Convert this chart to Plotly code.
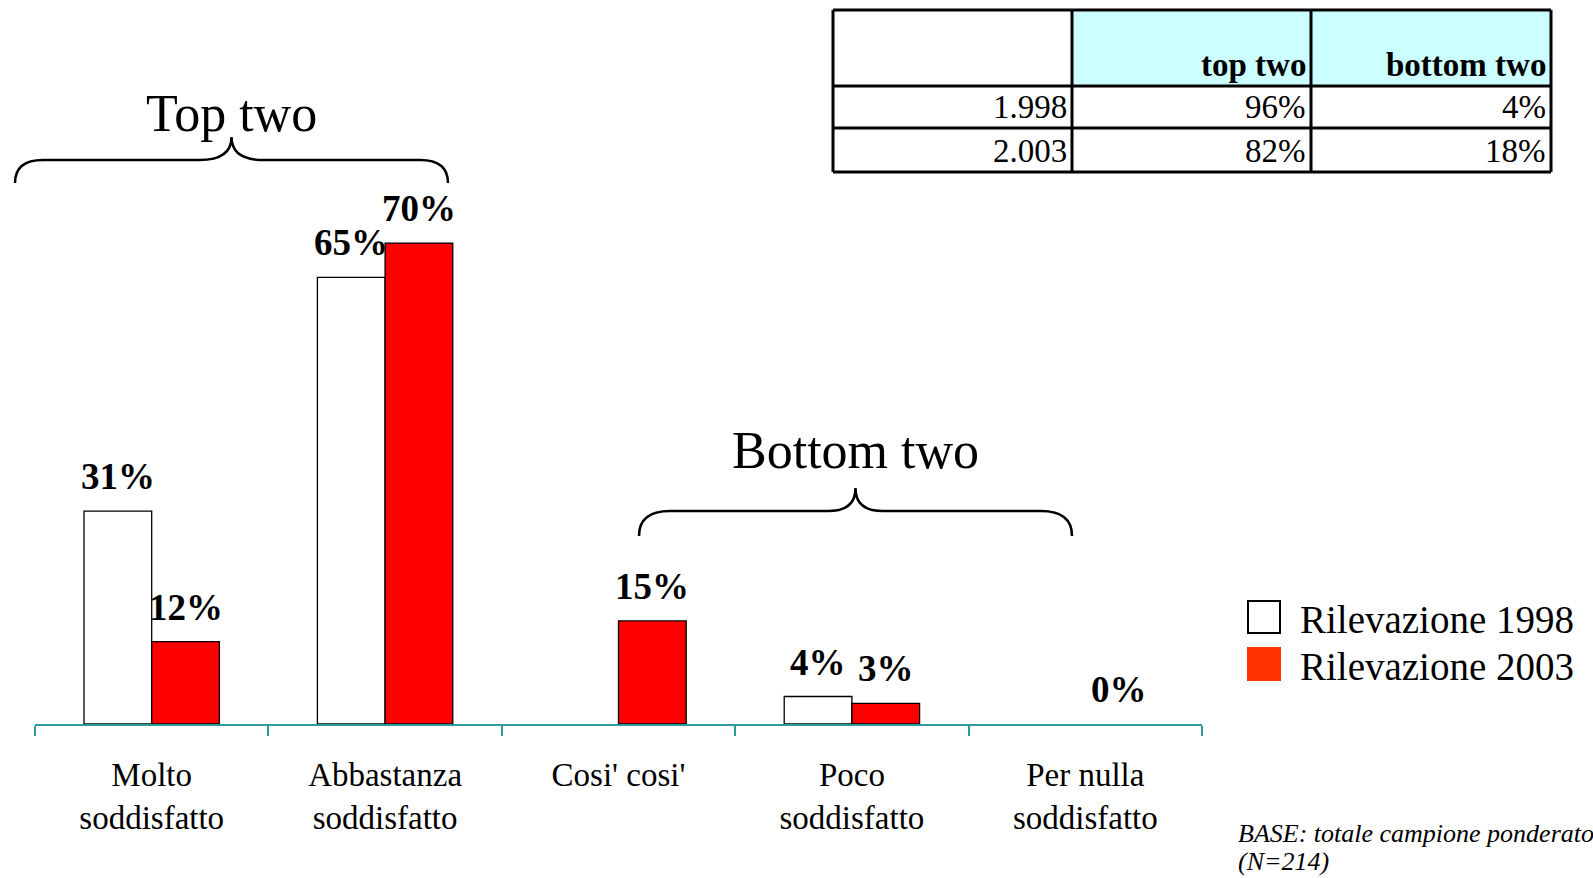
import plotly.graph_objects as go

# ---- data ----
categories = ["Molto<br>soddisfatto", "Abbastanza<br>soddisfatto", "Cosi' cosi'",
              "Poco<br>soddisfatto", "Per nulla<br>soddisfatto"]
series_names = ["Rilevazione 1998", "Rilevazione 2003"]
values_1998 = [31, 65, 0, 4, 0]
values_2003 = [12, 70, 15, 3, 0]
show_label_1998 = [True, True, False, True, False]
show_label_2003 = [True, True, True, True, True]

group_titles = ["Top two", "Bottom two"]

table_header = ["", "top two", "bottom two"]
table_rows = [["1.998", "96%", "4%"],
              ["2.003", "82%", "18%"]]

note_lines = ["BASE: totale campione ponderato", "(N=214)"]

# ---- layout geometry (pixels) ----
W, H = 1593, 878
ML, MR, MT, MB = 35, 391, 37, 154
PW = W - ML - MR
PH = H - MT - MB
Y0 = H - MB  # pixel row of the baseline

SERIF = "Liberation Serif, Times New Roman, serif"
COL_1998 = "#FFFFFF"
COL_2003 = "#FF0000"
COL_2003_KEY = "#FF3300"
AXIS_COL = "#2E9A9A"
BARGAP = 0.42


def px(x):
    return (x - ML) / PW


def py(y):
    return (Y0 - y) / PH


def path(points_cmds):
    out = []
    for cmd, *pts in points_cmds:
        coords = " ".join(f"{px(x):.5f},{py(y):.5f}" for x, y in pts)
        out.append(f"{cmd} {coords}")
    return " ".join(out)


def brace(x0, x1, y_end, y_line, y_peak, r_end, r_mid):
    xm = (x0 + x1) / 2
    return path([
        ("M", (x0, y_end)),
        ("Q", (x0, y_line), (x0 + r_end, y_line)),
        ("L", (xm - r_mid, y_line)),
        ("Q", (xm, y_line), (xm, y_peak)),
        ("Q", (xm, y_line), (xm + r_mid, y_line)),
        ("L", (x1 - r_end, y_line)),
        ("Q", (x1, y_line), (x1, y_end)),
    ])


def outline_widths(values):
    # empty bars get no outline so nothing sits on the axis
    return [1.3 if v > 0 else 0 for v in values]


fig = go.Figure()
fig.add_trace(go.Bar(x=categories, y=values_1998, name=series_names[0],
                     marker=dict(color=COL_1998,
                                 line=dict(color="#000000", width=outline_widths(values_1998))),
                     showlegend=False))
fig.add_trace(go.Bar(x=categories, y=values_2003, name=series_names[1],
                     marker=dict(color=COL_2003,
                                 line=dict(color="#000000", width=outline_widths(values_2003))),
                     showlegend=False))

annotations = []
shapes = []

# value labels above the bars
half = (1 - BARGAP) / 4
for values, flags, off in ((values_1998, show_label_1998, -half),
                           (values_2003, show_label_2003, half)):
    for i, (v, show) in enumerate(zip(values, flags)):
        if not show:
            continue
        annotations.append(dict(
            x=i + off, y=v, xref="x", yref="y", text=f"<b>{v}%</b>",
            showarrow=False, yanchor="bottom", xanchor="center", yshift=12,
            font=dict(family=SERIF, size=37, color="#000000")))

# group braces and titles
shapes.append(dict(type="path", xref="paper", yref="paper",
                   path=brace(15, 448, 183, 160, 137, 28, 32),
                   line=dict(color="#000000", width=2.5)))
shapes.append(dict(type="path", xref="paper", yref="paper",
                   path=brace(639, 1072, 536, 511, 488, 31, 27),
                   line=dict(color="#000000", width=2.5)))
for title, cx, base in ((group_titles[0], 231, 130), (group_titles[1], 855, 467)):
    annotations.append(dict(x=px(cx), y=py(base + 14), xref="paper", yref="paper",
                            text=title, showarrow=False, xanchor="center", yanchor="bottom",
                            font=dict(family=SERIF, size=52, color="#000000")))

# summary table
col_x = [833, 1072, 1311, 1551]
row_y = [10, 86, 128, 172]
for c in (1, 2):
    shapes.append(dict(type="rect", xref="paper", yref="paper",
                       x0=px(col_x[c]), x1=px(col_x[c + 1]),
                       y0=py(row_y[1]), y1=py(row_y[0]),
                       fillcolor="#CCFFFF", line=dict(width=0), layer="below"))
for x in col_x:
    shapes.append(dict(type="line", xref="paper", yref="paper",
                       x0=px(x), x1=px(x), y0=py(row_y[0]), y1=py(row_y[-1]),
                       line=dict(color="#000000", width=3)))
for y in row_y:
    shapes.append(dict(type="line", xref="paper", yref="paper",
                       x0=px(col_x[0]), x1=px(col_x[-1]), y0=py(y), y1=py(y),
                       line=dict(color="#000000", width=3)))
table_cells = [table_header] + table_rows
for r, row in enumerate(table_cells):
    for c, txt in enumerate(row):
        if not txt:
            continue
        annotations.append(dict(
            x=px(col_x[c + 1] - 3), y=py(row_y[r + 1] - 1), xref="paper", yref="paper",
            text=f"<b>{txt}</b>" if r == 0 else txt, showarrow=False,
            xanchor="right", yanchor="bottom",
            font=dict(family=SERIF, size=33, color="#000000")))

# legend keys
key_fill = [COL_1998, COL_2003_KEY]
key_line = ["#000000", COL_2003_KEY]
key_top = [601, 648]
for name, fill, edge, top in zip(series_names, key_fill, key_line, key_top):
    shapes.append(dict(type="rect", xref="paper", yref="paper",
                       x0=px(1248), x1=px(1280), y0=py(top + 32), y1=py(top),
                       fillcolor=fill, line=dict(color=edge, width=2)))
    annotations.append(dict(x=px(1298), y=py(top + 32 + 10), xref="paper", yref="paper",
                            text=name, showarrow=False, xanchor="left", yanchor="bottom",
                            font=dict(family=SERIF, size=39, color="#000000")))

# footnote
for line, base in zip(note_lines, (843, 870)):
    annotations.append(dict(x=px(1236), y=py(base + 7.5), xref="paper", yref="paper",
                            text=f"<i>{line}</i>", showarrow=False,
                            xanchor="left", yanchor="bottom",
                            font=dict(family=SERIF, size=26, color="#000000")))

fig.update_layout(
    width=W, height=H,
    margin=dict(l=ML, r=MR, t=MT, b=MB, pad=0),
    paper_bgcolor="#FFFFFF", plot_bgcolor="#FFFFFF",
    barmode="group", bargap=BARGAP, bargroupgap=0,
    showlegend=False,
    annotations=annotations, shapes=shapes,
    font=dict(family=SERIF, color="#000000"),
    xaxis=dict(type="category", range=[-0.5, len(categories) - 0.5],
               showline=True, linecolor=AXIS_COL, linewidth=2,
               ticks="outside", tickson="boundaries", ticklen=10,
               tickcolor=AXIS_COL, tickwidth=1.5,
               showgrid=False, zeroline=False,
               ticklabelstandoff=20,
               tickfont=dict(family=SERIF, size=33, color="#000000")),
    yaxis=dict(visible=False, range=[0, 100], fixedrange=True),
)

fig.write_html("out.html")
